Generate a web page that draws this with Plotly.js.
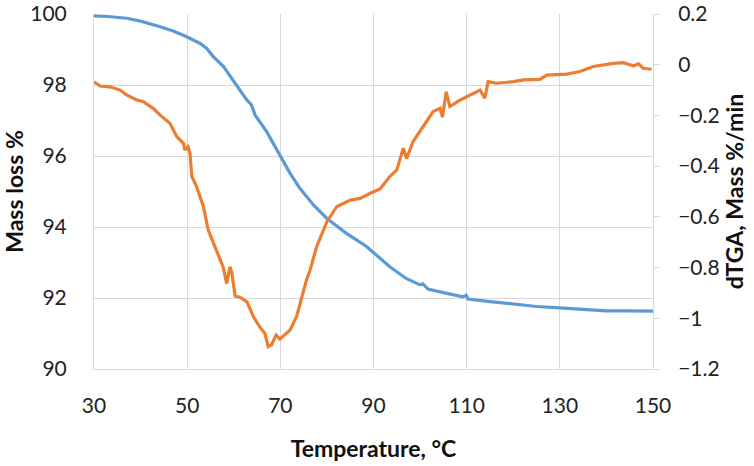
<!DOCTYPE html>
<html>
<head>
<meta charset="utf-8">
<script src="https://cdn.plot.ly/plotly-3.0.1.min.js"></script>
<style>html,body{margin:0;padding:0;background:#fff;}#chart{width:754px;height:466px;}</style>
</head>
<body>
<div id="chart"></div>
<script>
// Mass loss (left axis)
const massTemp = [30, 33, 37, 40, 44.2, 47, 49.9, 52.8, 54.2, 55.6, 57.8, 59.9, 62.8, 63.8, 64.6, 67.1, 69.9, 72.1, 74.2, 77.1, 80, 84.2, 88.5, 91.4, 93.5, 97, 100, 100.6, 101.7, 105, 109.2, 109.9, 110.3, 115, 120, 125, 130, 135, 140, 145, 150];
const massLoss = [99.95, 99.93, 99.88, 99.8, 99.64, 99.52, 99.36, 99.17, 99.03, 98.8, 98.52, 98.14, 97.58, 97.44, 97.15, 96.68, 96.03, 95.51, 95.09, 94.62, 94.24, 93.82, 93.45, 93.13, 92.88, 92.55, 92.37, 92.4, 92.25, 92.15, 92.03, 92.08, 91.97, 91.9, 91.83, 91.76, 91.72, 91.67, 91.64, 91.64, 91.63];

// dTGA (right axis)
const dtgaTemp = [30, 31.3, 33.4, 35.6, 37, 39.2, 40.6, 42.7, 44.2, 46.3, 47.8, 49.2, 49.5, 50.2, 50.6, 51, 52, 53.5, 54.5, 56.3, 57.7, 58.5, 59.2, 59.6, 60.3, 61.3, 62.8, 64.2, 65.6, 66.7, 67.4, 68.1, 69.1, 69.9, 72.1, 73.5, 75.6, 76.4, 77.8, 80, 82.1, 85, 87.1, 89.3, 91.4, 93.5, 95, 96.4, 97.1, 98.5, 100.7, 102.8, 104.3, 104.8, 105.6, 106.4, 108.6, 112.9, 113.9, 114.6, 116.4, 120, 122.2, 125.7, 127.2, 131.5, 134.3, 137.2, 141.5, 143.6, 145.8, 146.9, 147.9, 149.7];
const dtga = [-0.067, -0.084, -0.087, -0.100, -0.119, -0.139, -0.146, -0.172, -0.199, -0.231, -0.284, -0.310, -0.336, -0.324, -0.349, -0.441, -0.480, -0.560, -0.651, -0.731, -0.797, -0.863, -0.797, -0.822, -0.912, -0.917, -0.934, -0.993, -1.035, -1.060, -1.112, -1.105, -1.066, -1.082, -1.046, -0.993, -0.850, -0.809, -0.717, -0.619, -0.560, -0.534, -0.527, -0.507, -0.490, -0.441, -0.415, -0.329, -0.370, -0.303, -0.244, -0.185, -0.172, -0.207, -0.107, -0.165, -0.139, -0.100, -0.132, -0.067, -0.073, -0.067, -0.060, -0.058, -0.041, -0.037, -0.027, -0.007, 0.005, 0.008, -0.004, 0.003, -0.014, -0.018];

const xTicks = [30, 50, 70, 90, 110, 130, 150];
const yLeftTicks = [90, 92, 94, 96, 98, 100];
const yRightTicks = [-1.2, -1, -0.8, -0.6, -0.4, -0.2, 0, 0.2];

const FONT = 'Lato, "Open Sans", sans-serif';
const traces = [
  {x: massTemp, y: massLoss, type: 'scatter', mode: 'lines', name: 'Mass loss',
   line: {color: '#5B9BD5', width: 3.2}, yaxis: 'y'},
  {x: dtgaTemp, y: dtga, type: 'scatter', mode: 'lines', name: 'dTGA',
   line: {color: '#ED7D31', width: 3.2}, yaxis: 'y2'}
];

const layout = {
  width: 754, height: 466,
  margin: {l: 94, r: 101, t: 14, b: 97},
  paper_bgcolor: '#fff', plot_bgcolor: '#fff',
  showlegend: false,
  font: {family: FONT, color: '#222', size: 20},
  xaxis: {
    range: [30, 150], tickvals: xTicks, ticktext: xTicks.map(String),
    showgrid: true, gridcolor: '#d9d9d9', gridwidth: 1,
    showline: true, linecolor: '#d9d9d9', linewidth: 1,
    zeroline: false, ticks: '', ticklabelstandoff: 18,
    tickfont: {family: FONT, size: 21, color: '#222'},
    title: {text: 'Temperature, °C', font: {family: FONT, size: 23, color: '#111', weight: 'bold'}, standoff: 24}
  },
  yaxis: {
    range: [90, 100], tickvals: yLeftTicks, ticktext: yLeftTicks.map(String),
    showgrid: true, gridcolor: '#d9d9d9', gridwidth: 1,
    showline: true, linecolor: '#d9d9d9', linewidth: 1,
    zeroline: false, ticks: '', ticklabelstandoff: 22,
    tickfont: {family: FONT, size: 21, color: '#222'},
    title: {text: 'Mass loss %', font: {family: FONT, size: 23, color: '#111', weight: 'bold'}, standoff: 8}
  },
  yaxis2: {
    range: [-1.2, 0.2], overlaying: 'y', side: 'right',
    tickvals: yRightTicks, ticktext: yRightTicks.map(v => v < 0 ? '\u2212' + String(Math.abs(v)) : String(v)),
    showgrid: false, zeroline: false,
    showline: true, linecolor: '#d9d9d9', linewidth: 1,
    ticks: 'outside', ticklen: 6, tickcolor: '#d9d9d9', ticklabelstandoff: 14,
    tickfont: {family: FONT, size: 21, color: '#222'},
    title: {text: 'dTGA, Mass %/min', font: {family: FONT, size: 23, color: '#111', weight: 'bold'}, standoff: 6}
  }
};

Plotly.newPlot('chart', traces, layout, {displayModeBar: false, staticPlot: true});
</script>
</body>
</html>
